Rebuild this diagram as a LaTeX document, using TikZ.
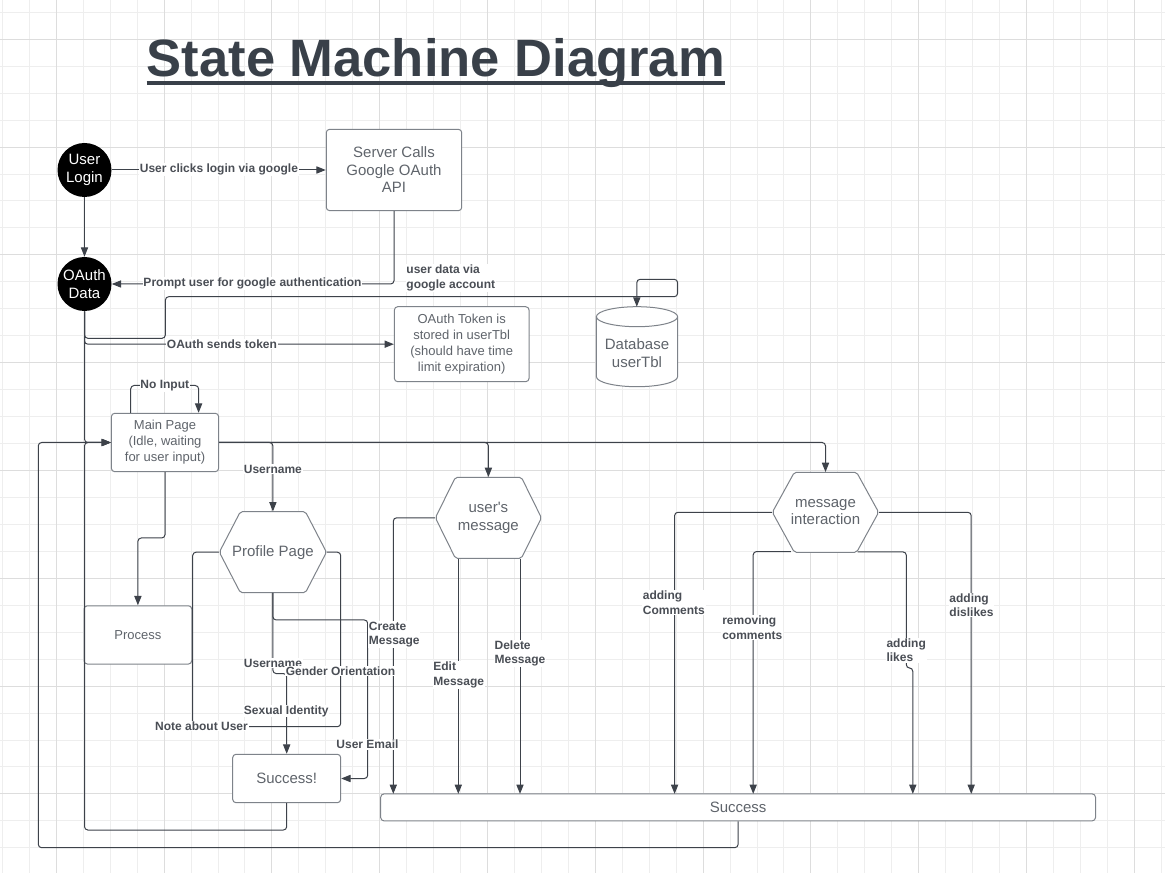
\documentclass[tikz,border=0pt]{standalone}
\usepackage{fontspec}
\setmainfont{Liberation Sans}
\usetikzlibrary{arrows.meta}
\definecolor{gridl}{HTML}{EEEEEE}
\definecolor{gridd}{HTML}{DDDDDD}
\definecolor{linec}{HTML}{3D424A}
\definecolor{boxc}{HTML}{7E838A}
\definecolor{txtc}{HTML}{5F646B}
\definecolor{lblc}{HTML}{4A4E55}
\definecolor{titlec}{HTML}{394049}
\begin{document}
\begin{tikzpicture}[x=0.75pt,y=-0.75pt,
  conn/.style={draw=linec, line width=0.75pt, rounded corners=2.5pt},
  arr/.style={conn, -{Triangle[length=7pt,width=5.4pt]}},
  box/.style={draw=boxc, line width=0.75pt, rounded corners=2.5pt, fill=white, text=txtc, align=center, inner sep=0pt},
  hexs/.style={draw=boxc, line width=0.75pt, fill=white, rounded corners=1.5pt},
  hexn/.style={text=txtc, align=center, inner sep=0pt, big},
  big/.style={font=\fontsize{11.25}{13.1}\selectfont},
  small/.style={font=\fontsize{9.75}{12}\selectfont},
  circ/.style={circle, fill=black, minimum size=40.5pt, inner sep=0pt, text=white, align=center, font=\fontsize{11.25}{13}\selectfont},
  lbl/.style={fill=white, inner sep=0.6pt, text=lblc, font=\bfseries\fontsize{9}{10.8}\selectfont, align=left}
]
% background and grid
\fill[white] (0,0) rectangle (1165,873);
\useasboundingbox (0,0) rectangle (1165,873);
\foreach \i in {-2,...,41} \draw[gridl, line width=0.75pt] ({56.3+26.95*\i},0) -- ({56.3+26.95*\i},873);
\foreach \i in {-1,...,30} \draw[gridl, line width=0.75pt] (0,{39.3+26.95*\i}) -- (1165,{39.3+26.95*\i});
\foreach \i in {0,4,...,40} \draw[gridd, line width=0.75pt] ({56.3+26.95*\i},0) -- ({56.3+26.95*\i},873);
\foreach \i in {0,4,...,28} \draw[gridd, line width=0.75pt] (0,{39.3+26.95*\i}) -- (1165,{39.3+26.95*\i});

% title
\node[anchor=base west, inner sep=0pt, text=titlec, font=\bfseries\fontsize{39.4}{46}\selectfont] (title) at (146.5,76.5) {State Machine Diagram};
\draw[titlec, line width=3.4pt] ([yshift=-4.9pt]title.base west) -- ([yshift=-4.9pt]title.base east);

% states
\node[circ] (login) at (84.5,170) {User\\Login};
\node[circ] (oauth) at (84.5,284) {OAuth\\Data};
\node[box, big, minimum width=101.6pt, minimum height=61pt] (server) at (394,170) {Server Calls\\Google OAuth\\API};
\node[box, small, minimum width=101pt, minimum height=56.25pt] (token) at (461.7,344.2) {OAuth Token is\\stored in userTbl\\(should have time\\limit expiration)};

% database cylinder
\draw[draw=boxc, line width=0.75pt, fill=white] (596.4,316.7) -- (596.4,376.7) arc[start angle=180, end angle=360, x radius=30.45pt, y radius=7.5pt] -- (677.6,316.7) arc[start angle=0, end angle=180, x radius=30.45pt, y radius=7.5pt] -- cycle;
\draw[boxc, line width=0.75pt] (596.4,316.7) arc[start angle=180, end angle=360, x radius=30.45pt, y radius=7.5pt];
\node[text=txtc, big, align=center, inner sep=0pt] (db) at (637,353.2) {Database\\userTbl};
\coordinate (dbtop) at (636.8,306.7);

\node[box, small, minimum width=80.4pt, minimum height=43.8pt] (mainp) at (165,442.5) {Main Page\\(Idle, waiting\\for user input)};
\node[box, small, minimum width=80.8pt, minimum height=43.7pt] (process) at (137.9,634.9) {Process};

% hexagons
\draw[hexs] (219.35,552.2) -- (240.35,511.7) -- (305.45,511.7) -- (326.45,552.2) -- (305.45,592.7) -- (240.35,592.7) -- cycle;
\node[hexn, minimum width=80.3pt, minimum height=60.75pt] (profile) at (272.9,552.2) {Profile Page};
\draw[hexs] (435.4,517.8) -- (455.4,477.3) -- (521.4,477.3) -- (541.4,517.8) -- (521.4,558.3) -- (455.4,558.3) -- cycle;
\node[hexn, minimum width=79.5pt, minimum height=60.75pt] (usermsg) at (488.4,517.8) {user\textquotesingle s\\message};
\draw[hexs] (772.35,512.3) -- (794.35,472.3) -- (856.65,472.3) -- (878.65,512.3) -- (856.65,552.3) -- (794.35,552.3) -- cycle;
\node[hexn, minimum width=79.7pt, minimum height=60pt] (msgint) at (825.5,512.3) {message\\interaction};

\node[box, big, minimum width=81pt, minimum height=36.3pt] (succ1) at (286.7,778.5) {Success!};
\node[box, big, minimum width=536.1pt, minimum height=20.25pt] (succ2) at (738.1,807.4) {Success};

% connector end points
\coordinate (j1) at (286.7,726.7);
\coordinate (cA) at (393.3,793.9);
\coordinate (cB) at (458.3,793.9);
\coordinate (cC) at (520,793.9);
\coordinate (cD) at (674.6,793.9);
\coordinate (cE) at (753.2,793.9);
\coordinate (cG) at (912.8,793.9);
\coordinate (cH) at (971.2,793.9);

% connectors
\draw[arr] (login.south) -- (oauth.north);
\draw[arr] (login.east) -- (server.west);
\draw[arr] (server.south) |- (oauth.east);
\draw[arr] (oauth.south) |- (165.4,338.3) |- (677.6,296.7) |- (636.8,279.3) -- (dbtop);
\draw[arr] (oauth.south) |- (token.west);
\draw[arr] (oauth.south) |- (mainp.west);
\draw[arr] ([xshift=-25.7pt]mainp.north) -- ++(0,-27.3) -| ([xshift=25.2pt]mainp.north);
\draw[arr] (mainp.east) -| (profile.north);
\draw[arr] (mainp.east) -| (usermsg.north);
\draw[arr] (mainp.east) -| (msgint.north);
\draw[arr] (mainp.south) -- ++(0,65.8) -| (process.north);

\draw[arr] (profile.south) -- ++(0,80.6) -| (succ1.north);
\draw[conn] (profile.west) -| (192.7,726.7) -- (j1);
\draw[conn] (profile.east) -| (340.7,726.7) -- (j1);
\draw[arr] (profile.south) |- (367.7,620) |- (succ1.east);

\draw[arr] (usermsg.west) -| (cA);
\draw[arr] (usermsg.south -| cB) -- (cB);
\draw[arr] (usermsg.south -| cC) -- (cC);

\draw[arr] (msgint.west) -| (cD);
\draw[arr] ([shift={(-25.9pt,0.75pt)}]msgint.south) -| (cE);
\draw[arr] ([shift={(24.15pt,0.5pt)}]msgint.south) -| (906.3,668) -| (cG);
\draw[arr] (msgint.east) -| (cH);

\draw[arr] (succ1.south) |- (84.5,830) |- (mainp.west);
\draw[arr] (succ2.south) |- (38.3,847.7) |- (mainp.west);

% labels
\node[lbl] (t1) at (218.9,169.5) {User clicks login via google};
\node[lbl] (t2) at (252.5,283.5) {Prompt user for google authentication};
\node[lbl, anchor=west] (t3) at (405.4,278) {user data via\\google account};
\node[lbl] (t4) at (222,344.2) {OAuth sends token};
\node[lbl] (t5) at (164.8,386) {No Input};
\node[lbl] (t6) at (272.9,469) {Username};
\node[lbl] (t7) at (273,663) {Username};
\node[lbl] (t8) at (340.5,671) {Gender Orientation};
\node[lbl] (t9) at (286.3,711) {Sexual Identity};
\node[lbl] (t10) at (201.5,726) {Note about User};
\node[lbl] (t11) at (367.5,744.7) {User Email};
\node[lbl] (t12) at (394.3,634.5) {Create\\Message};
\node[lbl] (t13) at (458.7,675) {Edit\\Message};
\node[lbl] (t14) at (520,653.7) {Delete\\Message};
\node[lbl] (t15) at (673.9,602.9) {adding\\Comments};
\node[lbl] (t16) at (752.3,627.7) {removing\\comments};
\node[lbl] (t17) at (906.2,650.5) {adding\\likes};
\node[lbl] (t18) at (971.5,605) {adding\\dislikes};
\end{tikzpicture}
\end{document}
